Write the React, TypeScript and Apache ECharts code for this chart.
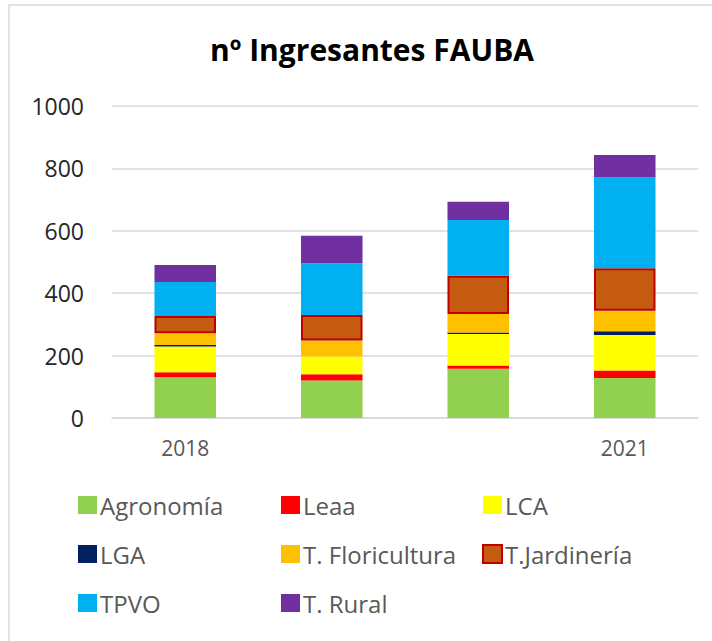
import React, { useEffect, useRef } from "react";
import * as echarts from "echarts";

const years = ["2018", "2019", "2020", "2021"];
const agronomia = [131, 120, 158, 128];
const leaa = [16, 20, 10, 24];
const lca = [82, 57, 101, 114];
const lga = [5, 0, 5, 12];
const tFloricultura = [38, 51, 59, 66];
const tJardineria = [55, 82, 123, 136];
const tpvo = [109, 166, 179, 291];
const tRural = [54, 88, 58, 72];
const yTicks = [0, 200, 400, 600, 800, 1000];

const seriesDefs = [
  { name: "Agronomía", data: agronomia, color: "#92D050" },
  { name: "Leaa", data: leaa, color: "#FF0000" },
  { name: "LCA", data: lca, color: "#FFFF00" },
  { name: "LGA", data: lga, color: "#002060" },
  { name: "T. Floricultura", data: tFloricultura, color: "#FFC000" },
  { name: "T.Jardinería", data: tJardineria, color: "#C55A11", border: "#C00000" },
  { name: "TPVO", data: tpvo, color: "#00B0F0" },
  { name: "T. Rural", data: tRural, color: "#7030A0" },
];

const legendCols = [
  ["Agronomía", "LGA", "TPVO"],
  ["Leaa", "T. Floricultura", "T. Rural"],
  ["LCA", "T.Jardinería"],
];
const legendLeft = [73, 276, 477];

export default function App() {
  const ref = useRef<HTMLDivElement>(null);
  useEffect(() => {
    if (!ref.current) return;
    const chart = echarts.init(ref.current, undefined, { renderer: "svg" });
    const font = "'Open Sans', 'Noto Sans', sans-serif";
    chart.setOption({
      animation: false,
      title: {
        text: "nº Ingresantes FAUBA",
        left: 205,
        top: 29,
        textStyle: { fontSize: 30, fontWeight: "bold", color: "#000", fontFamily: font },
      },
      graphic: [
        {
          type: "rect",
          shape: { x: 9, y: 5, width: 760, height: 700 },
          style: { fill: "none", stroke: "#D9D9D9", lineWidth: 1.5 },
          silent: true,
        },
      ],
      legend: legendCols.map((col, i) => ({
        data: col,
        orient: "vertical",
        left: legendLeft[i],
        top: 488,
        itemWidth: 19,
        itemHeight: 18,
        itemGap: 25,
        icon: "rect",
        textStyle: { fontSize: 24, color: "#595959", fontFamily: font, lineHeight: 24, padding: [0, 0, 0, -2] },
      })),
      grid: { left: 112, right: 14, top: 106, bottom: 223 },
      xAxis: {
        type: "category",
        data: years,
        axisLine: { lineStyle: { color: "#D9D9D9", width: 1.5 } },
        axisTick: { show: false },
        axisLabel: { interval: 2, fontSize: 21, color: "#595959", margin: 19, fontFamily: font },
      },
      yAxis: {
        type: "value",
        min: yTicks[0],
        max: yTicks[yTicks.length - 1],
        interval: 200,
        axisLine: { show: false },
        axisTick: { show: false },
        splitLine: { lineStyle: { color: "#D9D9D9", width: 1.5 } },
        axisLabel: {
          fontSize: 23,
          color: "#262626",
          margin: 28,
          fontFamily: font,
          formatter: (v: number) => String(v),
        },
      },
      series: seriesDefs.map((s) => ({
        name: s.name,
        type: "bar",
        stack: "total",
        data: s.data,
        barWidth: "42%",
        itemStyle: s.border
          ? { color: s.color, borderColor: s.border, borderWidth: 2 }
          : { color: s.color },
      })),
    });
    return () => chart.dispose();
  }, []);
  return (
    <div
      ref={ref}
      style={{ position: "fixed", left: 0, top: 0, width: 712, height: 641, background: "#fff" }}
    />
  );
}
